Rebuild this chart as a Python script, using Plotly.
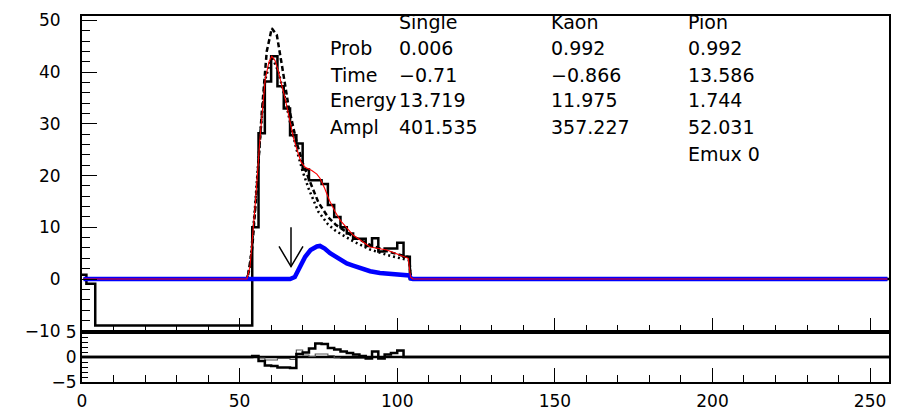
import plotly.graph_objects as go

# ---------------- data ----------------
# pulse histogram (bin edges and contents)
hist_edges = [0, 1.4, 4.2, 54, 56, 58, 60, 62, 64, 66, 68, 70, 72, 74, 76, 78, 80,
              82, 84, 86, 88, 90, 92, 94, 96, 98, 100, 102, 104, 256]
hist_values = [0.8, -0.9, -9.0, 10.0, 28.2, 38.2, 43.1, 37.3, 33.0, 27.8, 26.2, 21.2,
               19.1, 19.1, 18.4, 14.3, 12.0, 10.0, 8.8, 7.8, 7.8, 6.4, 7.9, 5.3, 5.9,
               5.9, 7.0, 4.3, 0.0]

# residual histograms (lower pad)
res_edges = [0, 54, 56, 58, 60, 62, 64, 66, 68, 70, 72, 74, 76, 78, 80, 82, 84, 86,
             88, 90, 92, 94, 96, 98, 100, 102, 104, 256]
res_two_pulse = [0.0, 0.2, -0.8, -1.7, -1.8, -2.1, -2.1, -2.2, 0.6, 0.9, 1.7, 2.7, 2.6,
                 1.8, 1.5, 1.1, 0.8, 0.5, 0.2, -0.3, 1.1, -0.3, 0.5, 0.8, 1.3, 0.0, 0.0]
res_single = [0.0, 0.1, -0.2, -0.6, -0.6, -0.3, -0.3, -0.5, 1.4, 0.4, 0.1, 0.6, 0.6,
              0.3, -0.2, -0.3, -0.3, -0.3, -0.3, -0.3, 1.1, -0.3, 0.5, 0.8, 1.2, 0.0, 0.0]

# total fit (kaon + pion)
fit_x = [0.5, 52.3, 53.3, 54.9, 56.5, 58.1, 59.3, 60.2, 61.2, 62.3, 64.4, 66.0, 67.1,
         68.3, 69.5, 70.8, 72.9, 74.5, 75.5, 77.0, 78.5, 80.3, 82.0, 86.0, 91.4, 96.7,
         101.9, 103.5, 104.2, 105.0, 255.5]
fit_y = [0, 0, 2.4, 14.0, 27.5, 38.5, 42.0, 43.1, 42.3, 40.1, 35.0, 30.2, 27.3, 24.8,
         22.6, 21.6, 21.0, 20.3, 19.5, 17.5, 15.2, 13.0, 11.3, 8.5, 6.2, 5.6, 4.4, 4.0,
         0.4, 0, 0]

# single-pulse fit
single_x = [0.5, 52.5, 54.0, 55.5, 57.0, 58.6, 60.2, 61.8, 63.4, 65.5, 68.1, 70.0, 72.0,
            75.0, 78.0, 80.5, 86.0, 91.4, 97.0, 102.0, 103.8, 104.3, 105.0, 255.5]
single_y = [0, 0, 6.0, 18.0, 32.0, 44.0, 48.5, 47.2, 41.4, 33.5, 26.4, 22.5, 19.3, 14.8,
            12.0, 10.5, 8.2, 6.6, 5.3, 4.5, 4.2, 0.3, 0, 0]

# kaon pulse
kaon_x = [0.5, 52.3, 53.3, 54.9, 56.5, 58.1, 60.2, 62.3, 64.4, 66.0, 68.0, 70.0, 72.0,
          75.0, 78.0, 80.5, 86.0, 91.4, 97.0, 102.0, 103.8, 104.3, 105.0, 255.5]
kaon_y = [0, 0, 2.4, 14.0, 27.5, 38.5, 43.1, 40.1, 35.0, 30.3, 25.2, 20.8, 17.3, 13.0,
          10.6, 9.3, 7.3, 5.7, 4.6, 3.9, 3.6, 0.3, 0, 0]

# pion pulse
pion_x = [0.5, 66.0, 67.5, 69.2, 70.8, 72.5, 74.5, 75.5, 77.0, 78.7, 80.8, 84.0, 86.0,
          89.3, 91.4, 94.5, 96.7, 100.0, 103.0, 103.8, 104.3, 105.0, 255.5]
pion_y = [0, 0, 0.4, 2.6, 4.3, 5.6, 6.3, 6.4, 5.9, 5.0, 4.2, 3.0, 2.6, 1.8, 1.5, 1.15,
          1.05, 0.9, 0.8, 0.7, 0.1, 0, 0]

# pion time marker
marker_x = 66.3
marker_top = 10.0
marker_tip = 2.4
head_dx = 3.8
head_dy = 3.9

# fit summary table
col_heads = ["Single", "Kaon", "Pion"]
row_names = ["Prob", "Time", "Energy", "Ampl"]
single_vals = ["0.006", "\u22120.71", "13.719", "401.535"]
kaon_vals = ["0.992", "\u22120.866", "11.975", "357.227"]
pion_vals = ["0.992", "13.586", "1.744", "52.031", "Emux 0"]

# ---------------- figure ----------------
W, H = 899, 411
ML, MR, MT, MB = 82, 10, 16, 29
PW, PH = W - ML - MR, H - MT - MB
split = 50 / PH

FONT = "DejaVu Sans"


def steps(edges, values):
    return list(edges), list(values) + [values[-1]]


fig = go.Figure()

hx, hy = steps(hist_edges, hist_values)
fig.add_trace(go.Scatter(x=hx, y=hy, mode="lines", line=dict(color="black", width=2.5, shape="hv"),
                         xaxis="x", yaxis="y"))
fig.add_trace(go.Scatter(x=single_x, y=single_y, mode="lines",
                         line=dict(color="black", width=2.5, dash="5px,3px"), xaxis="x", yaxis="y"))
fig.add_trace(go.Scatter(x=kaon_x, y=kaon_y, mode="lines",
                         line=dict(color="black", width=2.5, dash="2px,3px"), xaxis="x", yaxis="y"))
fig.add_trace(go.Scatter(x=pion_x, y=pion_y, mode="lines",
                         line=dict(color="#0000ff", width=4.5), xaxis="x", yaxis="y"))
fig.add_trace(go.Scatter(x=fit_x, y=fit_y, mode="lines",
                         line=dict(color="#ff0000", width=1.1), xaxis="x", yaxis="y"))

# arrow marking the pion onset
fig.add_trace(go.Scatter(
    x=[marker_x, marker_x, None, marker_x - head_dx, marker_x, marker_x + head_dx],
    y=[marker_top, marker_tip, None, marker_tip + head_dy, marker_tip, marker_tip + head_dy],
    mode="lines", line=dict(color="black", width=1.5), xaxis="x", yaxis="y"))

# residuals
sx, sy = steps(res_edges, res_single)
fig.add_trace(go.Scatter(x=sx, y=sy, mode="lines", line=dict(color="#555555", width=1.2, shape="hv"),
                         xaxis="x2", yaxis="y2"))
tx, ty = steps(res_edges, res_two_pulse)
fig.add_trace(go.Scatter(x=tx, y=ty, mode="lines", line=dict(color="black", width=2.5, shape="hv"),
                         xaxis="x2", yaxis="y2"))

# table text
def px_x(p):
    return (p - ML) / PW


def px_y(p):
    return (H - MB - p) / PH


ann = []
label_x, c1_x, c2_x, c3_x = 328, 397, 549, 686
rows_y = [48, 74.5, 100.5, 127, 153.5]
head_y = 22


def add_text(t, xp, yp):
    ann.append(dict(text=t, x=px_x(xp), y=px_y(yp), xref="paper", yref="paper",
                    xanchor="left", yanchor="middle", showarrow=False,
                    font=dict(family=FONT, size=19, color="black")))


for t, xp in zip(col_heads, [c1_x, c2_x, c3_x]):
    add_text(t, xp, head_y)
for i, name in enumerate(row_names):
    add_text(name, label_x, rows_y[i])
    add_text(single_vals[i], c1_x, rows_y[i])
    add_text(kaon_vals[i], c2_x, rows_y[i])
for i, v in enumerate(pion_vals):
    add_text(v, c3_x, rows_y[i])

axis_common = dict(showline=True, mirror=True, linewidth=2, linecolor="black",
                   showgrid=False, zeroline=False, ticks="inside", tickcolor="black",
                   tickwidth=1, automargin=False,
                   tickfont=dict(family=FONT, size=17, color="black"))

fig.update_layout(
    width=W, height=H,
    margin=dict(l=ML, r=MR, t=MT, b=MB, autoexpand=False),
    paper_bgcolor="white", plot_bgcolor="white",
    showlegend=False,
    annotations=ann,
    xaxis=dict(domain=[0, 1], range=[0, 256], anchor="y", tick0=0, dtick=50, ticklen=14,
               showticklabels=False,
               minor=dict(ticks="inside", ticklen=7, dtick=10, tickcolor="black", tickwidth=1),
               **axis_common),
    yaxis=dict(domain=[split, 1], range=[-10.25, 50.87], anchor="x", tick0=0, dtick=10,
               ticklen=15, ticklabelstandoff=16,
               minor=dict(ticks="inside", ticklen=8, dtick=2, tickcolor="black", tickwidth=1),
               **axis_common),
    xaxis2=dict(domain=[0, 1], range=[0, 256], anchor="y2", matches="x", tick0=0, dtick=50,
                ticklen=14, ticklabelstandoff=3,
                minor=dict(ticks="inside", ticklen=7, dtick=10, tickcolor="black", tickwidth=1),
                **axis_common),
    yaxis2=dict(domain=[0, split], range=[-5, 5], anchor="x2", tick0=0, dtick=5, ticklen=9,
                ticklabelstandoff=0,
                minor=dict(ticks="inside", ticklen=6, dtick=1, tickcolor="black", tickwidth=1),
                **axis_common),
)

# zero line of the residual pad
fig.add_shape(type="line", xref="x2", yref="y2", x0=0, x1=256, y0=0, y1=0,
              line=dict(color="black", width=2.5), layer="below")

fig.write_html("out.html")
